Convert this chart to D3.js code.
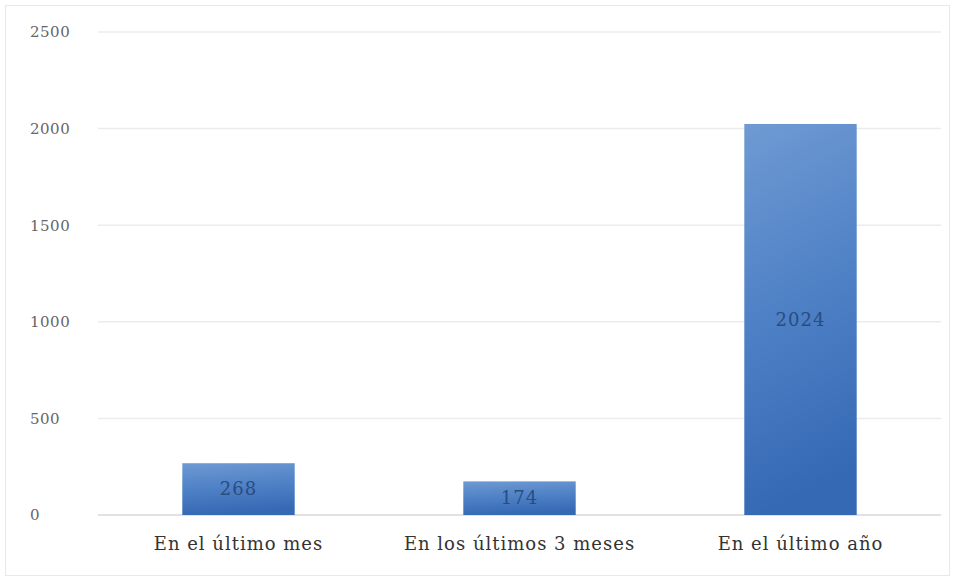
<!DOCTYPE html>
<html lang="es">
<head>
  <meta charset="UTF-8">
  <title>bar chart</title>
  <script src="https://cdn.jsdelivr.net/npm/d3@7/dist/d3.min.js"></script>
  <style>
    body { margin: 0; background: #fff; }
  </style>
</head>
<body>
<svg></svg>
<script>
  const width = 955, height = 581
  const margin = {top: 32, right: 14, bottom: 66, left: 98}

  const categories = ['En el último mes', 'En los últimos 3 meses', 'En el último año']
  const values = [268, 174, 2024]
  const yTicks = [0, 500, 1000, 1500, 2000, 2500]

  const svg = d3.select('svg')
      .attr('width', width)
      .attr('height', height)
      .style('font-family', '"DejaVu Serif", "Liberation Serif", serif')

  // marco del gráfico
  svg.append('rect')
      .attr('x', 5.5).attr('y', 5.5)
      .attr('width', width - 11).attr('height', height - 11)
      .attr('fill', '#fff')
      .attr('stroke', '#e6e8ee')

  const defs = svg.append('defs')
  const grad = defs.append('linearGradient')
      .attr('id', 'barGrad')
      .attr('x1', 0).attr('y1', 0).attr('x2', 0.15).attr('y2', 1)
  grad.append('stop').attr('offset', '0%').attr('stop-color', '#6f9ad3')
  grad.append('stop').attr('offset', '50%').attr('stop-color', '#4f81c6')
  grad.append('stop').attr('offset', '100%').attr('stop-color', '#3569b4')

  const x = d3.scaleBand()
      .domain(categories)
      .range([margin.left, width - margin.right])
      .paddingInner(0.6)
      .paddingOuter(0.3)

  const y = d3.scaleLinear()
      .domain([0, 2500])
      .range([height - margin.bottom, margin.top])

  // líneas de cuadrícula
  svg.append('g')
      .selectAll('line')
      .data(yTicks)
      .join('line')
      .attr('x1', margin.left)
      .attr('x2', width - margin.right)
      .attr('y1', d => y(d))
      .attr('y2', d => y(d))
      .attr('stroke', d => d === 0 ? '#d9d9d9' : '#ececec')
      .attr('stroke-width', 1.5)

  // eje Y (solo etiquetas, alineadas a la izquierda)
  const yAxis = svg.append('g')
      .attr('transform', 'translate(30,0)')
      .call(d3.axisLeft(y).tickValues(yTicks).tickFormat(d3.format('d')).tickSize(0).tickPadding(0))
  yAxis.select('.domain').remove()
  yAxis.selectAll('text')
      .attr('text-anchor', 'start')
      .attr('font-size', 15)
      .attr('letter-spacing', 0.5)
      .attr('fill', '#666')
      .style('font-family', '"DejaVu Serif", serif')

  // barras
  svg.append('g')
      .selectAll('rect')
      .data(values)
      .join('rect')
      .attr('x', (d, i) => x(categories[i]))
      .attr('y', d => y(d))
      .attr('width', x.bandwidth())
      .attr('height', d => y(0) - y(d))
      .attr('fill', 'url(#barGrad)')

  // etiquetas de valor
  svg.append('g')
      .selectAll('text')
      .data(values)
      .join('text')
      .attr('x', (d, i) => x(categories[i]) + x.bandwidth() / 2)
      .attr('y', d => (y(d) + y(0)) / 2)
      .attr('dy', '0.35em')
      .attr('text-anchor', 'middle')
      .attr('font-size', 18)
      .attr('letter-spacing', 1)
      .attr('fill', '#2a4c80')
      .text(d => d)

  // eje X (etiquetas de categoría)
  const xAxis = svg.append('g')
      .attr('transform', `translate(0,${height - margin.bottom})`)
      .call(d3.axisBottom(x).tickSize(0).tickPadding(22))
  xAxis.select('.domain').remove()
  xAxis.selectAll('text')
      .attr('font-size', 18)
      .attr('letter-spacing', 1)
      .attr('fill', '#333')
      .style('font-family', '"DejaVu Serif", serif')
</script>
</body>
</html>
